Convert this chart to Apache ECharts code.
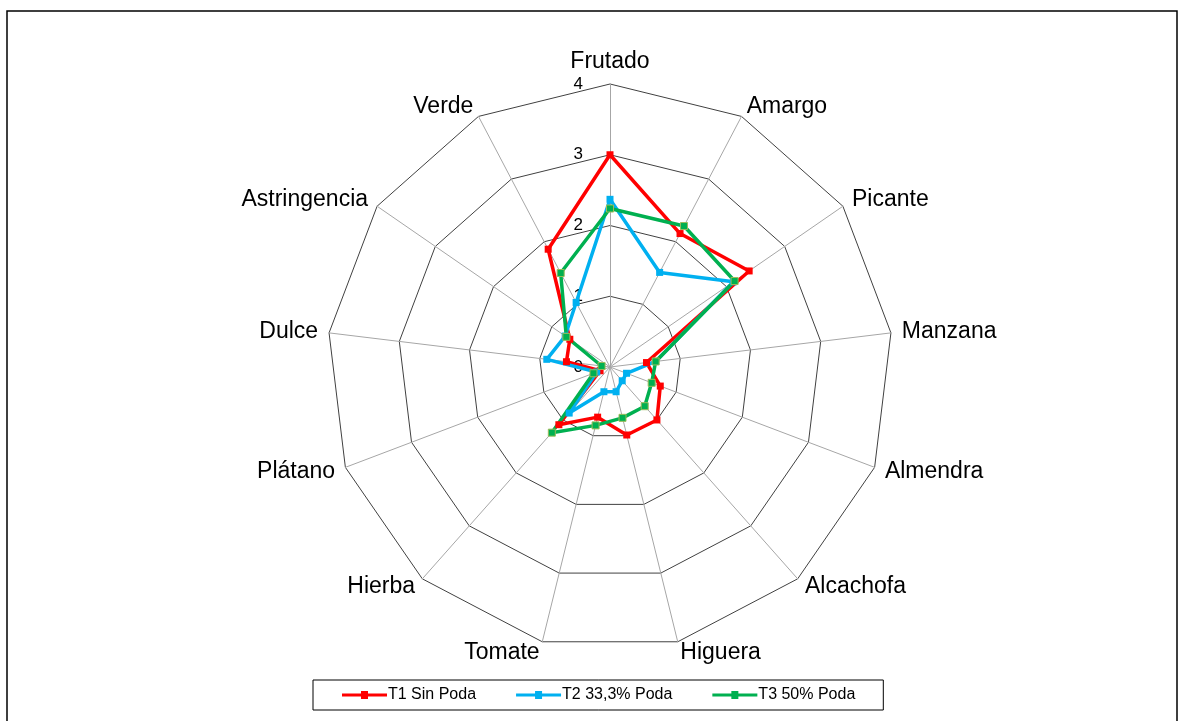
<!DOCTYPE html>
<html>
<head>
<meta charset="utf-8">
<script src="https://cdn.jsdelivr.net/npm/echarts@6/dist/echarts.min.js"></script>
<style>
  html, body { margin: 0; padding: 0; background: #fff; }
  #chart { width: 1181px; height: 721px; }
</style>
</head>
<body>
<div id="chart"></div>
<script>
// atributos sensoriales (ejes del radar, en sentido horario desde arriba)
const attributes = ["Frutado", "Amargo", "Picante", "Manzana", "Almendra", "Alcachofa",
  "Higuera", "Tomate", "Hierba", "Plátano", "Dulce", "Astringencia", "Verde"];
const seriesNames = ["T1 Sin Poda", "T2 33,3% Poda", "T3 50% Poda"];
const t1Values = [3.0, 2.13, 2.39, 0.52, 0.76, 1.0, 0.99, 0.73, 1.09, 0.15, 0.62, 0.69, 1.88];
const t2Values = [2.37, 1.51, 2.12, 0.65, 0.25, 0.26, 0.36, 0.36, 0.87, 0.2, 0.9, 0.77, 1.03];
const t3Values = [2.24, 2.25, 2.14, 0.65, 0.63, 0.74, 0.74, 0.85, 1.24, 0.25, 0.12, 0.75, 1.5];
const axisMax = 4;

const colors = ["#ff0000", "#00b0f0", "#00b050"];
const font = "Liberation Sans, Arial, sans-serif";

// el radar de echarts va en sentido antihorario -> se invierte el orden (Frutado queda arriba)
const order = [0];
for (let i = attributes.length - 1; i > 0; i--) order.push(i);
function reorder(arr) {
  return order.map(function(i) { return arr[i]; });
}

const chartDom = document.getElementById("chart");
const myChart = echarts.init(chartDom);

// solo el primer eje lleva las etiquetas 0..4
const indicator = reorder(attributes).map(function(name, i) {
  const ind = { name: name, min: 0, max: axisMax };
  if (i === 0) {
    ind.axisLabel = {
      show: true,
      color: "#000",
      fontSize: 17,
      fontFamily: font,
      margin: 27,
      formatter: function(v) { return String(Math.round(v)); }
    };
  }
  return ind;
});

const lineIcon = "path://M0,2.5 L45,2.5 L45,5.5 L0,5.5 Z M19,0 L26,0 L26,8 L19,8 Z";

const option = {
  animation: false,
  color: colors,
  graphic: [
    {
      type: "rect",
      shape: { x: 7, y: 11, width: 1170, height: 720 },
      style: { fill: "none", stroke: "#000", lineWidth: 1.5 }
    }
  ],
  legend: {
    bottom: 11,
    left: 313,
    orient: "horizontal",
    data: seriesNames.map(function(n, i) {
      return { name: n, icon: lineIcon, itemStyle: { color: colors[i], borderWidth: 0 } };
    }),
    itemWidth: 45,
    itemHeight: 8,
    itemGap: 40,
    padding: [7, 28, 7, 29],
    borderColor: "#000",
    borderWidth: 1,
    textStyle: { fontFamily: font, fontSize: 16, color: "#000", padding: [0, 0, 0, -4] }
  },
  radar: {
    center: [610, 367],
    radius: 283,
    startAngle: 90,
    shape: "polygon",
    splitNumber: 4,
    indicator: indicator,
    axisName: { color: "#000", fontSize: 23, fontFamily: font },
    nameGap: 11,
    axisLabel: { show: false },
    axisTick: { show: false },
    axisLine: { lineStyle: { color: "#a6a6a6", width: 1 } },
    splitLine: { lineStyle: { color: "#404040", width: 1 } },
    splitArea: { show: false }
  },
  series: [
    {
      type: "radar",
      symbol: "rect",
      symbolSize: 7,
      data: [
        {
          name: seriesNames[0],
          value: reorder(t1Values),
          lineStyle: { color: colors[0], width: 3.5 },
          itemStyle: { color: colors[0] }
        },
        {
          name: seriesNames[1],
          value: reorder(t2Values),
          lineStyle: { color: colors[1], width: 3.5 },
          itemStyle: { color: colors[1] }
        },
        {
          name: seriesNames[2],
          value: reorder(t3Values),
          lineStyle: { color: colors[2], width: 3.5 },
          itemStyle: { color: colors[2], borderColor: "#9bbb59", borderWidth: 1 }
        }
      ]
    }
  ]
};
myChart.setOption(option);
</script>
</body>
</html>
